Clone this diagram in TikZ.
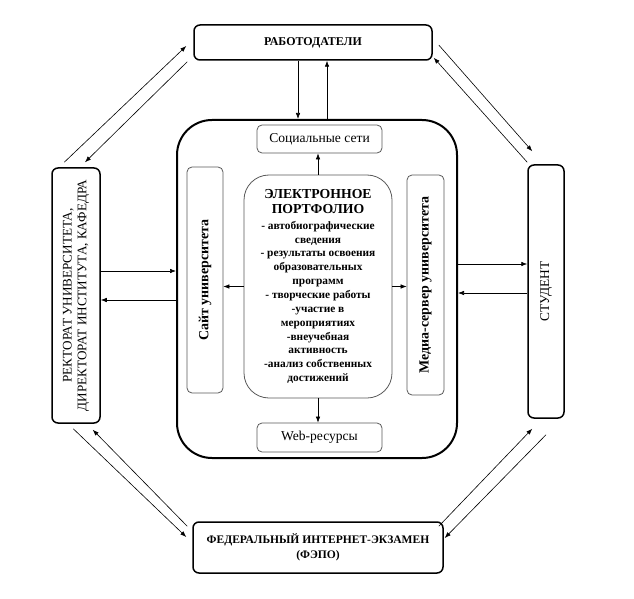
\documentclass[tikz,border=0pt]{standalone}
\usepackage{fontspec}
\setmainfont{Liberation Serif}
\usepackage{graphicx}
\usetikzlibrary{arrows.meta}

\begin{document}
\begin{tikzpicture}[x=1bp, y=-1bp,
		outerbox/.style={draw, line width=1.5bp, rounded corners=6bp, inner sep=0pt, align=center},
		innerbox/.style={draw=black!65, line width=0.8bp, rounded corners=5bp, inner sep=0pt, align=center},
		arr/.style={line width=0.6bp, -{Latex[length=6bp,width=4.5bp]}}]
		\useasboundingbox (0,0) rectangle (634,599);
		\node (rab) [outerbox, minimum width=238bp, minimum height=35bp, font=\fontsize{12}{14}\selectfont\bfseries] at (313,42.5) {РАБОТОДАТЕЛИ};
		\node (fepo) [outerbox, minimum width=250bp, minimum height=51bp, font=\fontsize{11.6}{15}\selectfont\bfseries] at (318,547.5) {ФЕДЕРАЛЬНЫЙ ИНТЕРНЕТ-ЭКЗАМЕН\\(ФЭПО)};
		\node (rek) [outerbox, minimum width=48bp, minimum height=255bp] at (76,295.5) {\rotatebox{90}{\fontsize{13.2}{15}\selectfont\begin{tabular}{@{}c@{}}РЕКТОРАТ УНИВЕРСИТЕТА,\\ДИРЕКТОРАТ ИНСТИТУТА, КАФЕДРА\end{tabular}}};
		\node (stud) [outerbox, minimum width=36bp, minimum height=253bp] at (546,291.5) {\rotatebox{90}{\fontsize{13.4}{15}\selectfont СТУДЕНТ}};
		\node (frame) [draw, line width=2bp, rounded corners=35bp, minimum width=280bp, minimum height=338bp] at (317,289) {};
		\node (soc) [innerbox, minimum width=125bp, minimum height=28bp, font=\fontsize{13.6}{15}\selectfont] at (319.5,139) {Социальные сети};
		\node (web) [innerbox, minimum width=125bp, minimum height=29bp, font=\fontsize{13.6}{15}\selectfont] at (319.5,437.5) {Web-ресурсы};
		\node (site) [innerbox, minimum width=36bp, minimum height=226bp] at (205,280) {\rotatebox{90}{\fontsize{14}{15}\selectfont\bfseries Сайт университета}};
		\node (media) [innerbox, minimum width=37bp, minimum height=220bp] at (425.5,285) {\rotatebox{90}{\fontsize{14}{15}\selectfont\bfseries Медиа-сервер университета}};
		\node (port) [innerbox, rounded corners=25bp, minimum width=148bp, minimum height=223bp, font=\fontsize{11.4}{13.9}\selectfont\bfseries] at (318,286.5) {{\fontsize{13.8}{15}\selectfont ЭЛЕКТРОННОЕ}\\[1bp]{\fontsize{13.8}{15}\selectfont ПОРТФОЛИО}\\[2bp]
			- автобиографические\\сведения\\- результаты освоения\\образовательных\\программ\\- творческие работы\\-участие в\\мероприятиях\\-внеучебная\\активность\\-анализ собственных\\достижений};
		\draw [arr] ([xshift=-15bp]rab.south) -- ([xshift=-15bp]rab.south |- frame.north);
		\draw [arr] ([xshift=14bp]rab.south |- frame.north) -- ([xshift=14bp]rab.south);
		\draw [arr] (port.north) -- (port.north |- soc.south);
		\draw [arr] (port.south) -- (port.south |- web.north);
		\draw [arr] (port.west) -- (port.west -| site.east);
		\draw [arr] (port.east) -- (port.east -| media.west);
		\draw [arr] ([yshift=24.5bp]rek.east) -- ([yshift=24.5bp]rek.east -| frame.west);
		\draw [arr] ([yshift=-4.5bp]rek.east -| frame.west) -- ([yshift=-4.5bp]rek.east);
		\draw [arr] ([yshift=27.5bp]stud.west -| frame.east) -- ([yshift=27.5bp]stud.west);
		\draw [arr] ([yshift=-1.5bp]stud.west) -- ([yshift=-1.5bp]stud.west -| frame.east);
		\draw [arr] ([shift={(13bp,5bp)}]rek.north west) -- ([shift={(-7bp,-3.5bp)}]rab.west);
		\draw [arr] ([shift={(-6bp,-1bp)}]rab.south west) -- ([shift={(9bp,5bp)}]rek.north);
		\draw [arr] ([shift={(6bp,-2.5bp)}]rab.east) -- ([shift={(5bp,13bp)}]stud.north west);
		\draw [arr] ([shift={(0bp,2bp)}]stud.north west) -- ([shift={(1bp,3bp)}]rab.south east);
		\draw [arr] ([shift={(22bp,-5bp)}]rek.south west) -- ([shift={(-6bp,10.5bp)}]fepo.west);
		\draw [arr] ([shift={(-5bp,-5bp)}]fepo.north west) -- ([shift={(-8bp,-6bp)}]rek.south east);
		\draw [arr] ([shift={(-5bp,-5bp)}]fepo.north east) -- ([shift={(5bp,-10bp)}]stud.south west);
		\draw [arr] ([shift={(0bp,-16bp)}]stud.south) -- ([shift={(1bp,9.5bp)}]fepo.east);
	\end{tikzpicture}
\end{document}
